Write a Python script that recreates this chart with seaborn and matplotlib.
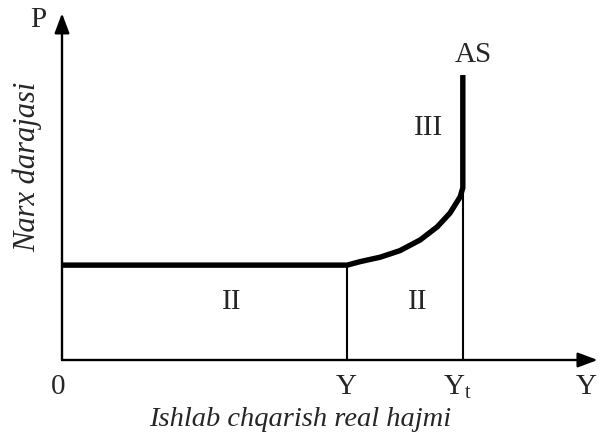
import matplotlib
matplotlib.use("Agg")
import matplotlib.pyplot as plt
import seaborn as sns
import pandas as pd

# Aggregate supply (AS) curve: horizontal, intermediate and vertical segments
flat_x = [0.0, 5.35]
flat_p = [2.75, 2.75]
curve_x = [5.35, 5.59, 5.97, 6.34, 6.72, 7.04, 7.28, 7.47, 7.52]
curve_p = [2.75, 2.85, 2.98, 3.17, 3.48, 3.86, 4.26, 4.73, 4.99]
vert_x = [7.52, 7.52]
vert_p = [4.99, 8.26]

# Output levels marked on the horizontal axis
y_levels = [5.35, 7.52]
tick_labels = ["0", "Y", "Y$_\\mathregular{t}$", "Y"]
tick_pos = [-0.07, 5.33, 7.41, 9.84]

sns.set_style("white")
plt.rcParams["font.family"] = ["Liberation Serif", "DejaVu Serif"]
plt.rcParams["mathtext.fontset"] = "custom"
plt.rcParams["mathtext.rm"] = "Liberation Serif"

fig = plt.figure(figsize=(6.0, 4.34), dpi=100)
ax = fig.add_axes([62 / 600, 74 / 434, 533 / 600, 345 / 434])
ax.set_xlim(0, 10)
ax.set_ylim(0, 10)
ax.axis("off")

as_df = pd.concat([
    pd.DataFrame({"x": flat_x, "p": flat_p}),
    pd.DataFrame({"x": curve_x, "p": curve_p}),
    pd.DataFrame({"x": vert_x, "p": vert_p}),
], ignore_index=True)
sns.lineplot(data=as_df, x="x", y="p", sort=False, estimator=None,
             color="black", lw=3.9, ax=ax, solid_capstyle="butt",
             solid_joinstyle="round")

# Thin drop lines from the curve to the output axis
for xv, top in zip(y_levels, [flat_p[0], curve_p[-1]]):
    sns.lineplot(x=[xv, xv], y=[0, top], color="black", lw=1.5, ax=ax,
                 estimator=None, sort=False)

# Axes with arrow heads
arrow = dict(arrowstyle="-|>,head_length=1.2,head_width=0.45",
             color="black", lw=1.7, shrinkA=0, shrinkB=0)
ax.annotate("", xy=(0, 10.05), xytext=(0, 0), arrowprops=arrow,
            annotation_clip=False)
ax.annotate("", xy=(10.05, 0), xytext=(0, 0), arrowprops=arrow,
            annotation_clip=False)

for pos, lab in zip(tick_pos, tick_labels):
    ax.text(pos, -0.78, lab, ha="center", va="center", fontsize=21,
            clip_on=False)

ax.text(-0.45, 9.86, "P", ha="center", va="center", fontsize=21,
        clip_on=False)
ax.text(7.71, 8.84, "AS", ha="center", va="center", fontsize=21,
        clip_on=False)
ax.text(6.87, 6.72, "III", ha="center", va="center", fontsize=21)
ax.text(3.19, 1.68, "II", ha="center", va="center", fontsize=21)
ax.text(6.68, 1.68, "II", ha="center", va="center", fontsize=21)

ax.text(4.47, -1.9, "Ishlab chqarish real hajmi", ha="center",
        va="baseline", fontsize=20.5, style="italic", clip_on=False)
ax.text(-0.64, 5.59, "Narx darajasi", ha="center", va="center", rotation=90,
        fontsize=22, style="italic", clip_on=False)

fig.savefig("out.png", dpi=100)
